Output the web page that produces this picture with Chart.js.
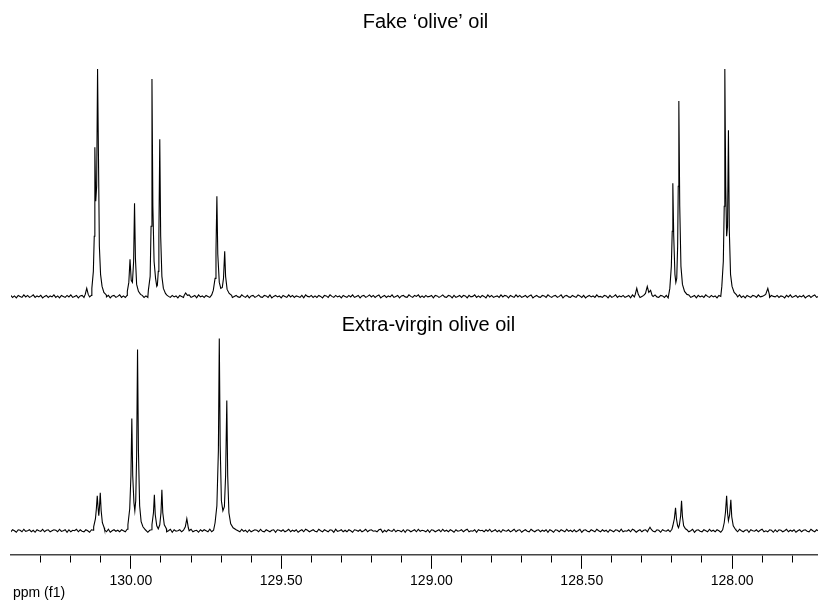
<!DOCTYPE html>
<html>
<head>
<meta charset="utf-8">
<script src="https://cdn.jsdelivr.net/npm/chart.js@4.4.1/dist/chart.umd.min.js"></script>
<style>
  html, body { margin: 0; padding: 0; background: #fff; }
  #nmr { display: block; }
</style>
</head>
<body>
<canvas id="nmr" width="818" height="601"></canvas>
<script>
// 13C NMR, olefinic region.
// baseline noise is sampled on a regular ppm grid, peaks are [ppm, intensity] groups
var noiseStart = 130.40;
var noiseStep = 0.00625;

var fakeNoise = [
  1, -1, 0.5, -1.5, 1, 0, -1, 1.5, -0.5, 1, -1, 0, 1.5, -1, 0.5, -0.5, 1, -1.5, 0, 1, -1, 0.5, -0.5, 1.5,
  -1, 0.5, -1.5, 1, 0, -1, 1, -0.5, 1.5, -1, 0, 1, -1.5, 0.5, 1, -1, 0, 1.5, -0.5, 1, -1, 0.5, -1.5, 1,
  0, -1, 1.5, -0.5, 1, -1.5, 0.5, 1, -1, 0, 1.5, -1, 0.5, -1, 1, 0, -1.5, 1, -0.5, 1.5, -1, 0, 1, -1,
  0.5, -1, 1, -1.5, 0, 1.5, -0.5, 1, -1, 0.5, -1, 1.5, 0, -1, 1, -0.5, 0.5, -1.5, 1, 0, -1, 1, -0.5, 1.5,
  -1, 0, 1, -1.5, 1.5, -0.5, 0.5, -1, 1, 0, -1, 1.5, -1, 0.5, 0, -1.5, 1, -0.5, 1, -1, 0.5, 1.5, -1, 0,
  1, -0.5, -1, 1.5, 0, -1, 1, -1.5, 0.5, 1, -1, 0, 1.5, -0.5, -1, 1, 0.5, -1, 1.5, -1.5, 0, 1, -0.5, 0.5,
  -1.5, 1, 0, -1, 1.5, -0.5, 1, -1, 0.5, 0, -1, 1, -1.5, 1.5, 0, -0.5, 1, -1, 0.5, -1, 1, 0, -1.5, 1,
  0.5, -1, 1.5, 0, -1, 1, -0.5, 0.5, -1.5, 1, 0, -1, 1, -0.5, 1.5, -1, 0, 1, -1.5, 0.5, 1, -1, 0, 1.5,
  -0.5, 1, -1, 0.5, 1.5, -1.5, 0, 1, -1, 0.5, -0.5, 1.5, -1, 0, 1, -1.5, 0.5, 1, -0.5, -1, 1.5, 0, -1, 1,
  0, 1.5, -1, 0.5, -1, 1, -0.5, 0, 1, -1.5, 1, 0.5, -1, 0, 1.5, -0.5, -1, 1, 0.5, -1.5, 1, -1, 0, 1,
  -1, 1, 0.5, -1.5, 1, -0.5, 0, 1.5, -1, 0.5, -1, 1, 0, -1.5, 1.5, -0.5, 1, -1, 0, 0.5, -1, 1.5, -0.5, 1,
  0.5, -1.5, 1, 0, -1, 1.5, -0.5, 1, -1, 0, 1, -1, 0.5, 1.5, -1.5, 0, 1, -0.5, -1, 1, 0.5, -1, 1.5, 0,
  -1, 0.5, 1, -1, 0, 1.5, -1.5, 0.5, 1, -0.5, -1, 1, 0, -1, 1.5, 0.5, -1, 1, -1.5, 0, 1, -0.5, 0.5, -1,
  1.5, -0.5, 0, -1, 1, 0.5, -1.5, 1, -1, 0, 1.5, -1, 0.5, -0.5, 1, -1, 0, 1, -1.5, 1.5, -0.5, 0, 1, -1,
  0, 1, -1.5, 0.5, 1, -1, 0, 1.5, -0.5, -1, 1, 0.5, -1, 1, -1.5, 0, 1.5, -1, 0.5, -0.5, 1, -1, 0, 0.5,
  -0.5, 1.5, -1, 0, 1, -1.5, 1, -0.5, 0.5, -1, 1.5, 0, -1, 1, -0.5, 0.5, -1.5, 1, 0, -1, 1, 0.5, -1, 1.5,
  -1, 0, 1, -0.5, 1.5, -1, 0.5, -1.5, 1, 0, -1, 1, 0.5, -1, 1.5, -0.5, 0, 1, -1.5, 0.5, -1, 1, 0, -0.5,
  1, -1, 0.5, 0, -1.5, 1, -0.5, 1.5, -1, 0, 1, -1, 0.5, -0.5, 1, -1.5, 0, 1, -1, 0.5, 1.5, -1, 0, 0
];

var fakePeaks = [
  [[130.152, 2], [130.147, 8], [130.142, 2]],
  [[130.13, 8], [130.125, 25], [130.122, 60], [130.120, 149], [130.117, 95], [130.114, 110], [130.111, 227],
   [130.108, 140], [130.105, 50], [130.101, 22], [130.096, 10], [130.09, 4], [130.082, 1.5]],
  [[130.012, 5], [130.007, 14], [130.003, 37], [129.999, 16], [129.995, 14], [129.991, 35], [129.988, 93],
   [129.985, 38], [129.981, 12], [129.975, 5], [129.968, 2]],
  [[129.942, 6], [129.936, 20], [129.933, 70], [129.930, 217], [129.927, 90], [129.923, 35], [129.918, 18],
   [129.914, 10], [129.912, 11], [129.909, 25], [129.907, 60], [129.904, 157], [129.901, 60], [129.897, 20],
   [129.892, 8], [129.885, 3]],
  [[129.823, 1], [129.818, 3.5], [129.812, 1]],
  [[129.726, 6], [129.72, 18], [129.717, 45], [129.714, 100], [129.711, 42], [129.706, 14], [129.701, 8],
   [129.696, 9], [129.692, 18], [129.688, 45], [129.685, 20], [129.68, 7], [129.673, 3], [129.665, 1]],
  [[128.322, 2], [128.317, 8], [128.312, 2]],
  [[128.288, 3], [128.282, 10], [128.277, 4], [128.271, 6], [128.266, 1]],
  [[128.207, 8], [128.202, 30], [128.199, 65], [128.197, 113], [128.194, 60], [128.190, 22], [128.187, 14],
   [128.184, 18], [128.181, 50], [128.179, 110], [128.177, 195], [128.174, 90], [128.170, 30], [128.165, 12],
   [128.158, 5], [128.15, 2]],
  [[128.034, 10], [128.029, 35], [128.026, 90], [128.024, 227], [128.021, 110], [128.018, 60], [128.015, 70],
   [128.012, 166], [128.009, 65], [128.005, 22], [128.0, 10], [127.993, 4], [127.985, 1.5]],
  [[127.888, 2], [127.881, 8], [127.876, 2]]
];

var evooNoise = [
  -1, 1, 0, -1.5, 1, 0.5, -1, 1.5, -0.5, 0, 1, -1, 0.5, -1.5, 1, 0, -0.5, 1.5, -1, 0.5, 1, -1, 0, 1,
  0.5, -1, 1.5, -0.5, 0, 1, -1.5, 1, -1, 0.5, 0, 1.5, -1, 1, -0.5, -1, 1, 0, -1.5, 1, 0.5, -1, 1.5, 0,
  -1, 0.5, 1, -1, 1.5, -1.5, 0, 1, -0.5, 0.5, -1, 1, 0, -1, 1.5, -0.5, 1, -1.5, 0.5, 0, 1, -1, 0.5, -0.5,
  1, -1.5, 0.5, 1, -1, 0, 1.5, -0.5, -1, 1, 0.5, -1, 0, 1.5, -1.5, 1, -0.5, 0, 1, -1, 0.5, 1, -1, 0,
  1.5, -1, 0, 0.5, -1.5, 1, -0.5, 1, 0, -1, 1.5, -1, 0.5, -0.5, 1, -1, 0, 1, -1.5, 0.5, 1.5, -1, 0, -0.5,
  1, 0, -1, 1.5, -0.5, 0.5, -1.5, 1, -1, 0, 1, 0.5, -1, 1.5, -0.5, -1, 1, 0, -1, 0.5, 1, -1.5, 1, 0.5,
  -0.5, 1, -1, 0, 1.5, -1, 0.5, -0.5, 1, -1.5, 0, 1, -1, 1.5, 0.5, -1, 0, 1, -0.5, -1, 1.5, 0, -1, 1,
  0, -1, 1, 0.5, -1.5, 1.5, -0.5, 0, 1, -1, 0.5, -1, 1, 0, -1.5, 1, 0.5, -0.5, 1, -1, 0, 1.5, -1, 0.5,
  1, -0.5, 0, -1, 1, 1.5, -1.5, 0.5, -1, 1, 0, -0.5, 1.5, -1, 0.5, 0, -1, 1, -1.5, 1, 0.5, -1, 0, 1,
  -1, 1.5, -0.5, 0.5, 0, -1, 1, -1.5, 1, 0.5, -1, 0, 1, -1, 1.5, -0.5, 0.5, -1, 1, 0, -1.5, 1, -0.5, 0,
  1, -1, 0.5, 1.5, -1, 0, -0.5, 1, -1.5, 1, 0, 0.5, -1, 1, -0.5, 1.5, -1, 0, 1, -1, 0.5, -1.5, 1, 0,
  -0.5, 1, -1, 0, 1.5, -1, 0.5, 1, -1.5, 0, 1, -0.5, -1, 1.5, 0, -1, 0.5, 1, -1, 0.5, -0.5, 1, -1.5, 1,
  0, -1.5, 1, 0.5, -1, 1, 0, -1, 1.5, -0.5, 0.5, -1, 1, -1, 0, 1.5, -1.5, 0.5, 1, -0.5, -1, 1, 0, -1,
  1.5, 0, -1, 1, -0.5, 0.5, -1.5, 1, 0, -1, 1, 0.5, -1, 1.5, -1, 0, -0.5, 1, -1, 1.5, 0.5, -1.5, 0, 1,
  -1, 0.5, 1, -1, 0, 1.5, -0.5, -1, 1, 0.5, -1.5, 1, 0, -0.5, 1, -1, 1.5, 0, -1, 0.5, 1, -1, 0.5, -0.5,
  1, -1, 0, 1.5, -1.5, 0.5, 1, -0.5, -1, 1, 0, -1, 1.5, -0.5, 0.5, -1, 1, 0, -1.5, 1, -0.5, 0.5, 1, -1,
  0.5, -0.5, 1, -1, 1.5, 0, -1, 0.5, 1, -1.5, 1, 0, -0.5, 1, -1, 0.5, 1.5, -1, 0, -1, 1, 0.5, -1.5, 1,
  -1, 1, 0.5, -1, 0, 1.5, -1, 0.5, -0.5, 1, -1.5, 0, 1, -1, 0.5, 1, -0.5, -1, 1.5, 0, -1, 1, 0, 0
];

var evooPeaks = [
  [[130.124, 4], [130.118, 12], [130.115, 22], [130.112, 35], [130.109, 22], [130.107, 15], [130.105, 22],
   [130.102, 38], [130.099, 20], [130.095, 8], [130.089, 3]],
  [[130.01, 6], [130.004, 22], [130.0, 55], [129.997, 112], [129.994, 55], [129.99, 28], [129.987, 20],
   [129.984, 30], [129.981, 75], [129.978, 181], [129.975, 80], [129.971, 25], [129.966, 9], [129.96, 4],
   [129.952, 1]],
  [[129.93, 6], [129.925, 18], [129.922, 36], [129.919, 16], [129.914, 5], [129.909, 2], [129.904, 6],
   [129.9, 18], [129.897, 41], [129.894, 18], [129.889, 6], [129.882, 2]],
  [[129.819, 4], [129.814, 12], [129.809, 3]],
  [[129.72, 8], [129.714, 25], [129.709, 80], [129.706, 192], [129.703, 85], [129.699, 30], [129.694, 20],
   [129.689, 24], [129.685, 55], [129.681, 130], [129.678, 55], [129.674, 18], [129.668, 7], [129.66, 3],
   [129.65, 1]],
  [[128.278, 1], [128.273, 3.5], [128.268, 1]],
  [[128.197, 5], [128.192, 12], [128.188, 23], [128.185, 12], [128.181, 5], [128.178, 3], [128.175, 6],
   [128.171, 15], [128.168, 30], [128.165, 14], [128.161, 5], [128.155, 2]],
  [[128.026, 8], [128.022, 18], [128.018, 35], [128.015, 18], [128.012, 10], [128.008, 16], [128.004, 31],
   [128.001, 14], [127.996, 5], [127.99, 2]]
];

var spectrumTitles = ["Fake \u2018olive\u2019 oil", "Extra-virgin olive oil"];
var axisTitle = "ppm (f1)";
var ppmLeft = 130.399;
var ppmRight = 127.714;

var fontFamily = '"Liberation Sans", Arial, sans-serif';

function isMajor(v) {
  return Math.abs(v * 2 - Math.round(v * 2)) < 1e-6;
}

// noise grid points that fall under a peak are dropped, the rest merged in ppm order
function buildSpectrum(noise, peaks) {
  var pts = [];
  noise.forEach(function (v, i) {
    var ppm = noiseStart - i * noiseStep;
    var inside = peaks.some(function (g) {
      return ppm <= g[0][0] + 1e-9 && ppm >= g[g.length - 1][0] - 1e-9;
    });
    if (!inside) pts.push({ x: ppm, y: v });
  });
  peaks.forEach(function (g) {
    g.forEach(function (p) { pts.push({ x: p[0], y: p[1] }); });
  });
  pts.sort(function (a, b) { return b.x - a.x; });
  return pts;
}

var titlesPlugin = {
  id: "spectrumTitles",
  afterDraw: function (chart) {
    var ctx = chart.ctx;
    var x = chart.scales.x;
    ctx.save();
    ctx.fillStyle = "#000";
    ctx.font = "20px " + fontFamily;
    ctx.textAlign = "center";
    ctx.textBaseline = "middle";
    ctx.fillText(spectrumTitles[0], x.getPixelForValue(129.02), chart.chartArea.top - 18);
    ctx.fillText(spectrumTitles[1], x.getPixelForValue(129.01), chart.scales.yBot.getPixelForValue(205));
    // axis name, flush left under the tick labels
    ctx.font = "14px " + fontFamily;
    ctx.textAlign = "left";
    ctx.fillText(axisTitle, x.left + 2, x.bottom - 1);
    ctx.restore();
  }
};

new Chart(document.getElementById("nmr"), {
  type: "line",
  data: {
    datasets: [
      {
        label: spectrumTitles[0],
        data: buildSpectrum(fakeNoise, fakePeaks),
        yAxisID: "yTop",
        borderColor: "#000",
        borderWidth: 1.1,
        pointRadius: 0,
        tension: 0
      },
      {
        label: spectrumTitles[1],
        data: buildSpectrum(evooNoise, evooPeaks),
        yAxisID: "yBot",
        borderColor: "#000",
        borderWidth: 1.1,
        pointRadius: 0,
        tension: 0
      }
    ]
  },
  options: {
    responsive: false,
    animation: false,
    devicePixelRatio: 1,
    layout: { padding: { top: 40, left: 11, right: 0, bottom: 7 } },
    plugins: {
      legend: { display: false },
      tooltip: { enabled: false },
      title: { display: false }
    },
    scales: {
      x: {
        type: "linear",
        reverse: true,
        min: ppmRight,
        max: ppmLeft,
        border: { display: true, color: "#444", width: 1.5 },
        grid: {
          drawOnChartArea: false,
          drawTicks: true,
          tickLength: 14,
          tickColor: "#000",
          tickWidth: 1,
          tickBorderDash: function (c) {
            return isMajor(c.tick.value) ? [] : [7, 30];
          }
        },
        ticks: {
          stepSize: 0.1,
          includeBounds: false,
          autoSkip: false,
          maxRotation: 0,
          maxTicksLimit: 100,
          padding: 7,
          color: "#000",
          font: { family: fontFamily, size: 14, lineHeight: 0.8 },
          callback: function (v) {
            return isMajor(v) ? v.toFixed(2) : "";
          }
        }
      },
      yTop: {
        type: "linear",
        position: "left",
        stack: "nmr",
        stackWeight: 266,
        weight: 1,
        min: -10,
        max: 256,
        display: false
      },
      yBot: {
        type: "linear",
        position: "left",
        stack: "nmr",
        stackWeight: 248,
        weight: 0,
        min: -24,
        max: 224,
        display: false
      }
    }
  },
  plugins: [titlesPlugin]
});
</script>
</body>
</html>
